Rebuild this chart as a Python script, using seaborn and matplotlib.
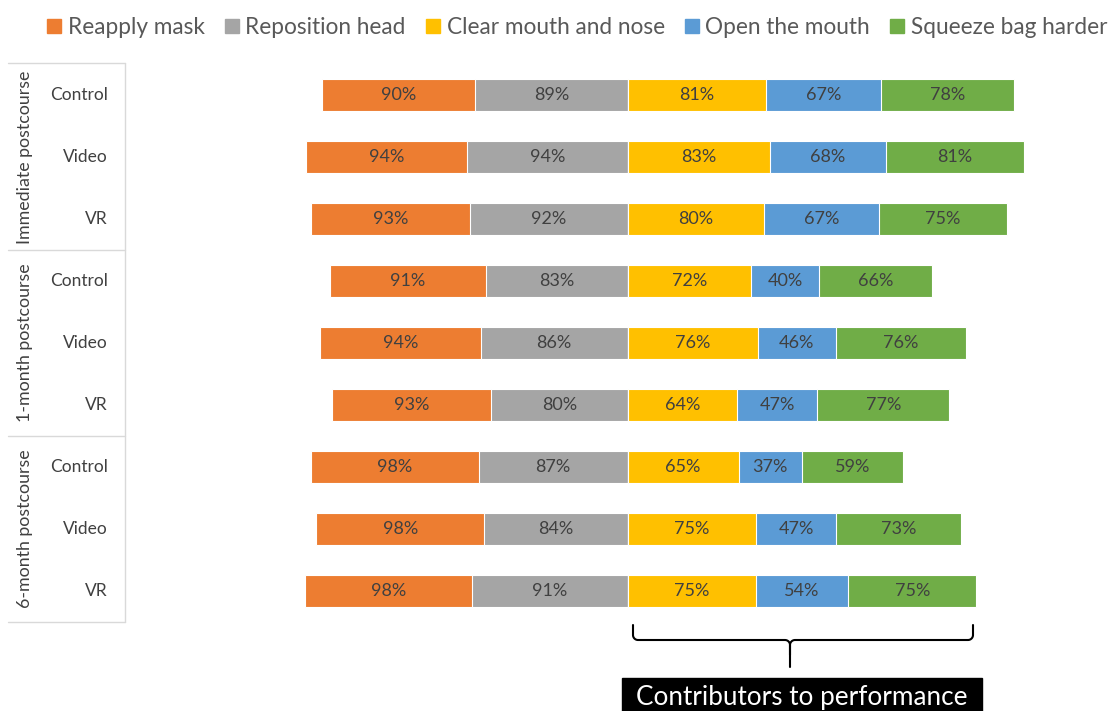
import numpy as np
import pandas as pd
import matplotlib
matplotlib.use("Agg")
import matplotlib.pyplot as plt
import matplotlib.transforms as mtransforms
from matplotlib.lines import Line2D
from matplotlib.patches import Rectangle
import seaborn as sns

# ---- data ----
periods = ["Immediate postcourse", "1-month postcourse", "6-month postcourse"]
groups = ["Control", "Video", "VR"]
categories = ["Reapply mask", "Reposition head", "Clear mouth and nose",
              "Open the mouth", "Squeeze bag harder"]
reapply_mask = [90, 94, 93, 91, 94, 93, 98, 98, 98]
reposition_head = [89, 94, 92, 83, 86, 80, 87, 84, 91]
clear_mouth = [81, 83, 80, 72, 76, 64, 65, 75, 75]
open_mouth = [67, 68, 67, 40, 46, 47, 37, 47, 54]
squeeze_bag = [78, 81, 75, 66, 76, 77, 59, 73, 75]

colors = ["#ED7D31", "#A5A5A5", "#FFC000", "#5B9BD5", "#70AD47"]

sns.set_theme(style="white")
FONT = ["Lato", "DejaVu Sans"]
plt.rcParams["font.family"] = FONT

rows = [f"{p}|{g}" for p in periods for g in groups]
df = pd.DataFrame({
    "row": rows,
    "mask": reapply_mask, "head": reposition_head,
    "clear": clear_mouth, "open": open_mouth, "squeeze": squeeze_bag,
})
df["L2"] = -(df["mask"] + df["head"])
df["L1"] = -df["head"]
df["R3"] = df["clear"] + df["open"] + df["squeeze"]
df["R2"] = df["clear"] + df["open"]
df["R1"] = df["clear"]

W, H = 1108, 711
fig = plt.figure(figsize=(W / 100, H / 100), dpi=100)
ax = fig.add_axes([125 / W, 1 - 622 / H, (W - 125) / W, (622 - 64) / H])

bw = 0.52
for col, c in [("L2", colors[0]), ("L1", colors[1]),
               ("R3", colors[4]), ("R2", colors[3]), ("R1", colors[2])]:
    sns.barplot(data=df, x=col, y="row", order=rows, color=c, width=bw,
                orient="h", ax=ax, edgecolor="white", linewidth=0.8,
                saturation=1)

ax.set_xlim(-294, 281)
ax.set_ylim(len(rows) - 0.5, -0.5)
ax.set_xlabel("")
ax.set_ylabel("")
ax.set_xticks([])
ax.set_yticks([])
for s in ax.spines.values():
    s.set_visible(False)

# value labels at segment centres
txtc = "#404040"
for i in range(len(rows)):
    m, h = reapply_mask[i], reposition_head[i]
    c1, o, q = clear_mouth[i], open_mouth[i], squeeze_bag[i]
    segs = [(-h - m / 2, m), (-h / 2, h), (c1 / 2, c1),
            (c1 + o / 2, o), (c1 + o + q / 2, q)]
    for xc, v in segs:
        ax.text(xc, i, f"{v}%", ha="center", va="center", fontsize=13,
                color=txtc)

# left table labels
tr = mtransforms.blended_transform_factory(fig.transFigure, ax.transData)
for i, r in enumerate(rows):
    ax.text(108 / W, i, r.split("|")[1], transform=tr, ha="right",
            va="center", fontsize=12.5, color="#404040")
for k, p in enumerate(periods):
    ax.text(25 / W, 3 * k + 1, p, transform=tr, ha="center", va="center",
            rotation=90, fontsize=12.8, color="#404040")

# overlay for table lines, bracket, caption
ov = fig.add_axes([0, 0, 1, 1], facecolor="none")
ov.set_xlim(0, W)
ov.set_ylim(H, 0)
ov.axis("off")
lc = "#D9D9D9"
ov.add_line(Line2D([125, 125], [63, 622], color=lc, lw=1))
for yy in [63, 250, 436, 622]:
    ov.add_line(Line2D([8, 125], [yy, yy], color=lc, lw=1))

# bracket
bx0, bx1, by0, by1, bmid, bstem = 633, 973, 625, 640, 790, 667
t = np.linspace(0, np.pi / 2, 12)
r = 5
xs = [bx0, bx0] + list(bx0 + r - r * np.cos(t)) + [bmid - r]
ys = [by0, by1 - r] + list(by1 - r + r * np.sin(t)) + [by1]
xs += list(bmid - r + r * np.sin(t)) + [bmid]
ys += list(by1 + r - r * np.cos(t)) + [bstem]
ov.plot(xs, ys, color="black", lw=1.5, solid_capstyle="round")
xs2 = [bx1, bx1] + list(bx1 - r + r * np.cos(t)) + [bmid + r]
ys2 = [by0, by1 - r] + list(by1 - r + r * np.sin(t)) + [by1]
xs2 += list(bmid + r - r * np.sin(t)) + [bmid]
ys2 += list(by1 + r - r * np.cos(t)) + [bstem - 12]
ov.plot(xs2, ys2, color="black", lw=1.5, solid_capstyle="round")

ov.add_patch(Rectangle((622, 678), 360, 40, color="black"))
ov.text(802, 697, "Contributors to performance", ha="center", va="center",
        color="white", fontsize=18.8)

# legend
handles = [Line2D([], [], marker="s", linestyle="none", markersize=10,
                  markerfacecolor=c, markeredgecolor=c) for c in colors]
fig.legend(handles, categories, loc="center", ncol=5,
           bbox_to_anchor=(575 / W, 1 - 27 / H), frameon=False,
           fontsize=16.3, labelcolor="#595959", handletextpad=0.1,
           columnspacing=0.7, handlelength=1.0)

fig.savefig("out.png", dpi=100)
